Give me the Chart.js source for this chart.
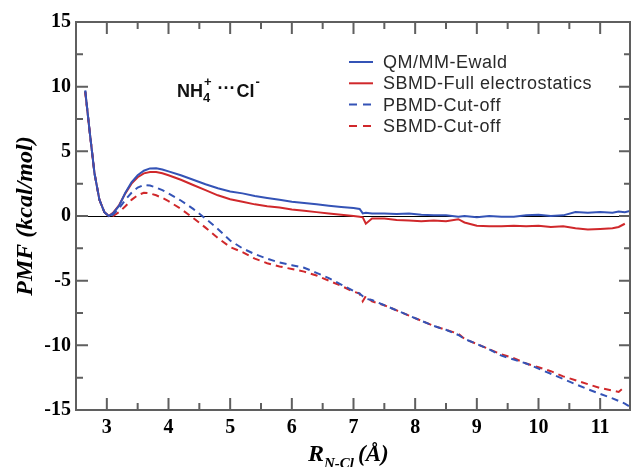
<!DOCTYPE html>
<html>
<head>
<meta charset="utf-8">
<script src="https://cdn.jsdelivr.net/npm/chart.js@4.4.1/dist/chart.umd.min.js"></script>
<style>
  body { margin: 0; background: #fff; }
  #wrap { width: 631px; height: 467px; }
</style>
</head>
<body>
<div id="wrap"><canvas id="pmf" width="631" height="467"></canvas></div>
<script>
// --- datos ---
const rValues = [2.65, 2.72, 2.8, 2.88, 2.96, 3.03, 3.1, 3.2, 3.3, 3.4, 3.5, 3.6, 3.7, 3.8, 3.9, 4.0,
  4.2, 4.4, 4.6, 4.8, 5.0, 5.2, 5.4, 5.6, 5.8, 6.0, 6.2, 6.4, 6.6, 6.8, 7.0, 7.1, 7.15, 7.2, 7.3,
  7.5, 7.7, 7.9, 8.1, 8.3, 8.5, 8.7, 8.8, 9.0, 9.2, 9.4, 9.6, 9.8, 10.0, 10.2, 10.4, 10.6, 10.8,
  11.0, 11.2, 11.3, 11.4, 11.5];

const qmmmEwald = [9.7, 6.6, 3.3, 1.25, 0.3, 0.0, 0.2, 0.8, 1.8, 2.6, 3.15, 3.5, 3.68, 3.7, 3.6, 3.45,
  3.15, 2.8, 2.45, 2.15, 1.9, 1.75, 1.55, 1.4, 1.25, 1.1, 1.0, 0.9, 0.8, 0.7, 0.62, 0.55, 0.2, 0.25, 0.2,
  0.2, 0.15, 0.2, 0.1, 0.05, 0.05, -0.05, 0.0, -0.1, 0.0, -0.05, -0.05, 0.05, 0.1, 0.0, 0.05, 0.3, 0.25,
  0.3, 0.25, 0.35, 0.3, 0.4];

// las series rojas terminan en 11.4
const sbmdFull = [9.6, 6.6, 3.3, 1.25, 0.3, 0.0, 0.25, 0.85, 1.75, 2.5, 3.0, 3.3, 3.4, 3.4, 3.3, 3.15,
  2.8, 2.4, 2.0, 1.6, 1.3, 1.1, 0.9, 0.75, 0.65, 0.5, 0.4, 0.3, 0.2, 0.1, 0.0, -0.05, -0.1, -0.6, -0.2,
  -0.2, -0.3, -0.35, -0.4, -0.35, -0.4, -0.25, -0.5, -0.75, -0.8, -0.8, -0.75, -0.8, -0.75, -0.85, -0.8, -0.95, -1.05,
  -1.0, -0.95, -0.85, -0.6];

const pbmdCutoff = [9.7, 6.6, 3.3, 1.25, 0.3, 0.0, 0.1, 0.6, 1.25, 1.8, 2.2, 2.4, 2.35, 2.2, 2.0, 1.75,
  1.2, 0.55, -0.2, -1.0, -1.9, -2.5, -2.95, -3.3, -3.6, -3.8, -4.0, -4.4, -4.8, -5.3, -5.8, -6.0, -6.2, -6.4, -6.5,
  -6.9, -7.3, -7.7, -8.1, -8.5, -8.8, -9.2, -9.5, -9.9, -10.3, -10.8, -11.1, -11.4, -11.8, -12.2, -12.6, -13.0, -13.4,
  -13.75, -14.1, -14.3, -14.5, -14.8];

const sbmdCutoff = [9.6, 6.6, 3.3, 1.25, 0.3, 0.0, 0.0, 0.3, 0.75, 1.25, 1.6, 1.8, 1.75, 1.6, 1.4, 1.15,
  0.55, -0.15, -0.9, -1.7, -2.4, -2.8, -3.3, -3.65, -3.9, -4.1, -4.3, -4.6, -5.0, -5.4, -5.85, -6.0, -6.6, -6.2, -6.6,
  -6.9, -7.3, -7.7, -8.1, -8.5, -8.8, -9.1, -9.5, -9.9, -10.3, -10.7, -11.0, -11.4, -11.7, -12.0, -12.4, -12.7, -13.0,
  -13.3, -13.5, -13.6, -13.2];

const seriesNames = ["QM/MM-Ewald", "SBMD-Full electrostatics", "PBMD-Cut-off", "SBMD-Cut-off"];
const xTickValues = [3, 4, 5, 6, 7, 8, 9, 10, 11];
const yTickValues = [-15, -10, -5, 0, 5, 10, 15];

const BLUE = "#3453b6";
const RED = "#d0282b";
const FRAME = "#5f5f5f";

function serie(label, ys, color, dashed) {
  return {
    label: label,
    data: ys.map((v, i) => ({ x: rValues[i], y: v })),
    borderColor: color,
    backgroundColor: color,
    borderWidth: 2,
    borderDash: dashed ? [7, 5] : [],
    pointRadius: 0,
    tension: 0
  };
}

// --- linea cero (detras de las curvas) ---
const zeroLine = {
  id: "zeroLine",
  beforeDatasetsDraw(chart) {
    const { ctx, chartArea: a, scales } = chart;
    ctx.save();
    ctx.fillStyle = "#000";
    ctx.fillRect(a.left, Math.round(scales.y.getPixelForValue(0)), a.right - a.left, 1);
    ctx.restore();
  }
};

// --- marco y ticks hacia adentro ---
const frame = {
  id: "frame",
  afterDraw(chart) {
    const { ctx, chartArea: a, scales } = chart;
    ctx.save();
    ctx.setLineDash([]);
    ctx.globalCompositeOperation = "source-over";
    ctx.globalAlpha = 1;
    ctx.strokeStyle = FRAME;
    ctx.lineWidth = 2;
    ctx.strokeRect(a.left, a.top, a.right - a.left - 1, a.bottom - a.top);
    ctx.beginPath();
    xTickValues.forEach(v => {
      const px = scales.x.getPixelForValue(v);
      const pm = scales.x.getPixelForValue(v + 0.5);
      ctx.moveTo(px, a.bottom); ctx.lineTo(px, a.bottom - 12);
      ctx.moveTo(px, a.top); ctx.lineTo(px, a.top + 12);
      ctx.moveTo(pm, a.bottom); ctx.lineTo(pm, a.bottom - 7);
      ctx.moveTo(pm, a.top); ctx.lineTo(pm, a.top + 7);
    });
    yTickValues.forEach(v => {
      const py = scales.y.getPixelForValue(v);
      ctx.moveTo(a.left, py); ctx.lineTo(a.left + 12, py);
      ctx.moveTo(a.right, py); ctx.lineTo(a.right - 12, py);
      if (v < 15) {
        const pm = scales.y.getPixelForValue(v + 2.5);
        ctx.moveTo(a.left, pm); ctx.lineTo(a.left + 7, pm);
        ctx.moveTo(a.right, pm); ctx.lineTo(a.right - 7, pm);
      }
    });
    ctx.stroke();
    ctx.restore();
  }
};

// --- leyenda, etiqueta y titulos ---
const texts = {
  id: "texts",
  afterDraw(chart) {
    const { ctx, chartArea: a } = chart;
    ctx.save();
    const styles = [[BLUE, false], [RED, false], [BLUE, true], [RED, true]];
    ctx.font = "18px 'Liberation Sans', Arial, sans-serif";
    ctx.textBaseline = "middle";
    seriesNames.forEach((name, i) => {
      const yy = 62 + i * 21.3;
      ctx.strokeStyle = styles[i][0];
      ctx.lineWidth = 2;
      ctx.setLineDash(styles[i][1] ? [8, 6] : []);
      ctx.beginPath();
      ctx.moveTo(349, yy);
      ctx.lineTo(373, yy);
      ctx.stroke();
      ctx.setLineDash([]);
      ctx.fillStyle = "#2a2a2a";
      let lx = 383;
      for (const ch of name) {
        ctx.fillText(ch, lx, yy + 1);
        lx += ctx.measureText(ch).width + 0.5;
      }
    });

    // NH4+ ... Cl-
    ctx.fillStyle = "#111";
    ctx.textBaseline = "alphabetic";
    ctx.font = "bold 18px 'Liberation Sans', Arial, sans-serif";
    let cx = 177;
    const base = 97;
    ctx.fillText("NH", cx, base); cx += ctx.measureText("NH").width;
    ctx.font = "bold 13px 'Liberation Sans', Arial, sans-serif";
    ctx.fillText("4", cx, base + 5);
    ctx.fillText("+", cx + 1, base - 11); cx += ctx.measureText("+").width + 7;
    ctx.font = "bold 18px 'Liberation Sans', Arial, sans-serif";
    ctx.fillText("\u00b7\u00b7\u00b7", cx, base - 3); cx += ctx.measureText("\u00b7\u00b7\u00b7").width + 1;
    ctx.fillText("Cl", cx, base); cx += ctx.measureText("Cl").width + 1;
    ctx.font = "bold 13px 'Liberation Sans', Arial, sans-serif";
    ctx.fillText("-", cx, base - 11);

    // titulos de ejes
    ctx.fillStyle = "#000";
    ctx.font = "italic bold 24px 'Liberation Serif', 'Times New Roman', serif";
    ctx.save();
    ctx.translate(32, (a.top + a.bottom) / 2);
    ctx.rotate(-Math.PI / 2);
    ctx.textAlign = "center";
    ctx.fillText("PMF (kcal/mol)", 0, 0);
    ctx.restore();

    let tx = 308;
    const tb = 461;
    ctx.textAlign = "left";
    ctx.font = "italic bold 24px 'Liberation Serif', 'Times New Roman', serif";
    ctx.fillText("R", tx, tb); tx += ctx.measureText("R").width;
    ctx.font = "italic bold 15px 'Liberation Serif', 'Times New Roman', serif";
    ctx.fillText("N-Cl", tx, tb + 7); tx += ctx.measureText("N-Cl").width + 4;
    ctx.font = "italic bold 23px 'Liberation Serif', 'Times New Roman', serif";
    ctx.fillText("(\u00c5)", tx, tb);
    ctx.restore();
  }
};

const tickFont = { family: "'Liberation Serif', 'Times New Roman', serif", size: 20, weight: "bold" };

new Chart(document.getElementById("pmf"), {
  type: "line",
  data: {
    datasets: [
      serie(seriesNames[0], qmmmEwald, BLUE, false),
      serie(seriesNames[1], sbmdFull, RED, false),
      serie(seriesNames[2], pbmdCutoff, BLUE, true),
      serie(seriesNames[3], sbmdCutoff, RED, true)
    ]
  },
  options: {
    responsive: false,
    animation: false,
    layout: { padding: { top: 22, right: 0, left: 0, bottom: 0 } },
    plugins: { legend: { display: false }, tooltip: { enabled: false } },
    scales: {
      x: {
        type: "linear",
        min: 2.5,
        max: 11.5,
        afterBuildTicks: s => { s.ticks = xTickValues.map(v => ({ value: v })); },
        afterFit: s => { s.height = 57; },
        grid: { display: false, drawTicks: false },
        border: { display: true, color: FRAME, width: 2 },
        ticks: { color: "#000", font: tickFont, padding: 6, maxRotation: 0, autoSkip: false }
      },
      y: {
        min: -15,
        max: 15,
        afterBuildTicks: s => { s.ticks = yTickValues.map(v => ({ value: v })); },
        afterFit: s => { s.width = 76; },
        grid: { display: false, drawTicks: false },
        border: { display: true, color: FRAME, width: 2 },
        ticks: { color: "#000", font: tickFont, padding: 5 }
      }
    }
  },
  plugins: [zeroLine, frame, texts]
});
</script>
</body>
</html>
